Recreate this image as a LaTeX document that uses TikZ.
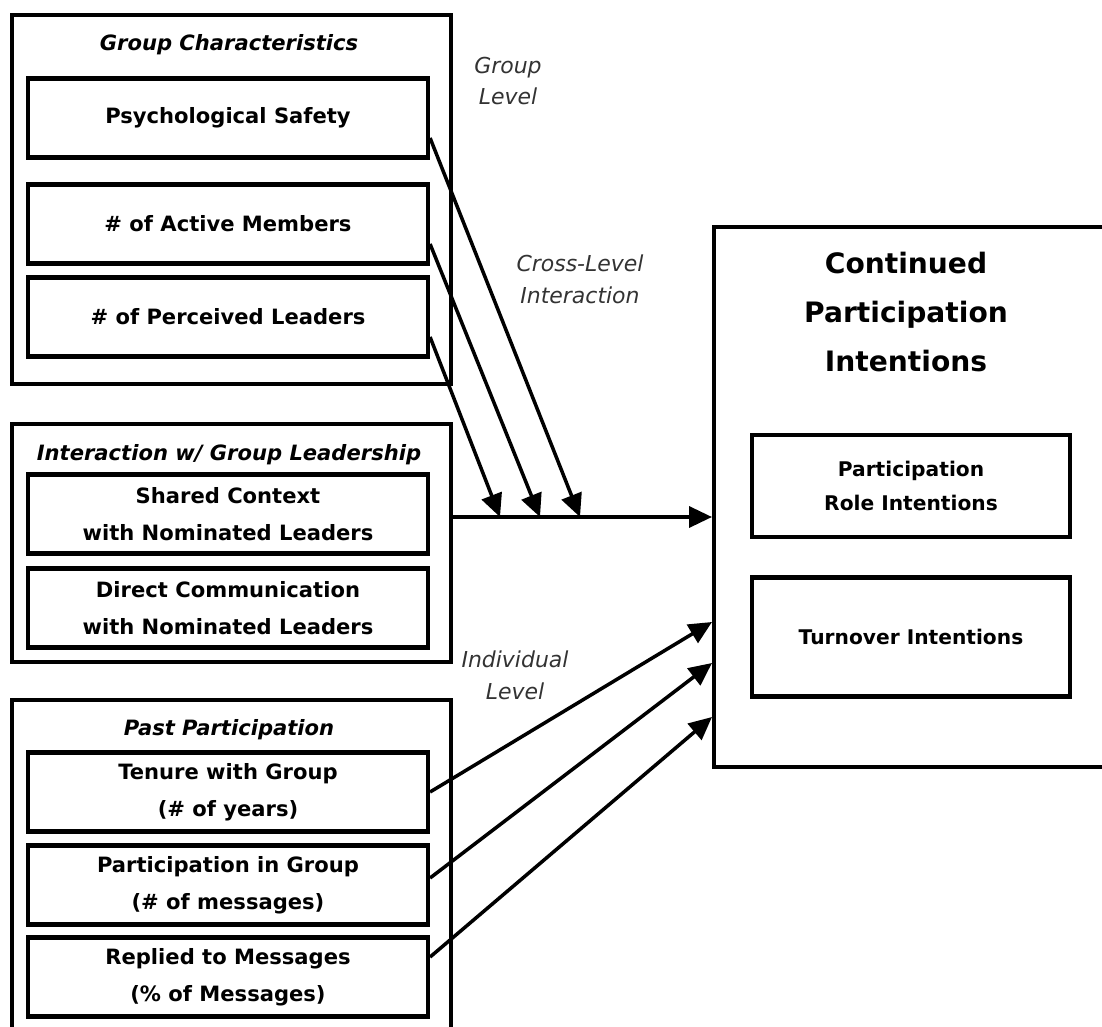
\documentclass[tikz,border=0pt]{standalone}
\usepackage{fontspec}
\setmainfont{DejaVu Sans}
\usetikzlibrary{arrows.meta,calc}

\tikzset{
  groupbox/.style={draw,line width=2.4pt,anchor=north west,minimum width=8.78cm,inner sep=0pt},
  grouptitle/.style={font=\fontsize{12}{14}\selectfont\bfseries\itshape},
  itembox/.style={draw,line width=2.4pt,minimum width=8cm,minimum height=1.58cm,align=center,
    font=\fontsize{12}{21}\selectfont\bfseries},
  outcomebox/.style={draw,line width=2.4pt,minimum width=6.36cm,align=center,
    font=\fontsize{11.5}{19}\selectfont\bfseries},
  levellabel/.style={align=center,text=black!80,font=\fontsize{12.5}{18}\selectfont\itshape},
  link/.style={line width=2pt,-{Triangle[length=4.6mm,width=4.2mm]}}
}

\begin{document}
\begin{tikzpicture}[x=0.02cm,y=-0.02cm]
\useasboundingbox (0,0) rectangle (1102,1027);
\clip (0,0) rectangle (1102,1027);
% group level
\node[groupbox,minimum height=7.38cm] (gc) at (10,13) {};
\node[grouptitle] (gctitle) at (229,45) {Group Characteristics};
\node[itembox] (ps) at (228,118) {Psychological Safety};
\node[itembox] (am) at (228,224) {\# of Active Members};
\node[itembox] (pl) at (228,317) {\# of Perceived Leaders};
\node[levellabel] (glevel) at (508,81) {Group\\Level};
\node[levellabel] (xlevel) at (580,279) {Cross-Level\\Interaction};
% interaction with leaders
\node[groupbox,minimum height=4.76cm] (intr) at (10,422) {};
\node[grouptitle] (intrtitle) at (229,455) {Interaction w/ Group Leadership};
\node[itembox] (sc) at (228,514) {Shared Context\\with Nominated Leaders};
\node[itembox] (dc) at (228,608) {Direct Communication\\with Nominated Leaders};
\node[levellabel] (ilevel) at (515,675) {Individual\\Level};
% past participation
\node[groupbox,minimum height=6.9cm] (past) at (10,698) {};
\node[grouptitle] (pasttitle) at (229,730) {Past Participation};
\node[itembox] (ten) at (228,792) {Tenure with Group\\(\# of years)};
\node[itembox] (part) at (228,885) {Participation in Group\\(\# of messages)};
\node[itembox] (rep) at (228,977) {Replied to Messages\\(\% of Messages)};
% outcome
\node[draw,line width=2.4pt,anchor=north west,minimum width=8.1cm,minimum height=10.8cm] (cpi) at (712,225) {};
\node[align=center,font=\fontsize{16}{28}\selectfont\bfseries] (cpititle) at (906,312)
  {Continued\\Participation\\Intentions};
\node[outcomebox,minimum height=2.04cm] (pri) at (911,486) {Participation\\Role Intentions};
\node[outcomebox,minimum height=2.38cm] (ti) at (911,637) {Turnover Intentions};
% connectors
\coordinate (m1) at (500,517);
\coordinate (m2) at (540,517);
\coordinate (m3) at (580,517);
\draw[link] (intr.east |- m1) -- (cpi.west |- m1);
\draw[link] ([yshift=-0.4cm]ps.east) -- (m3);
\draw[link] ([yshift=-0.4cm]am.east) -- (m2);
\draw[link] ([yshift=-0.4cm]pl.east) -- (m1);
\draw[link] (ten.east) -- (cpi.west |- 0,622);
\draw[link] ([yshift=0.14cm]part.east) -- (cpi.west |- 0,663);
\draw[link] ([yshift=0.4cm]rep.east) -- (cpi.west |- 0,717);
\end{tikzpicture}
\end{document}
